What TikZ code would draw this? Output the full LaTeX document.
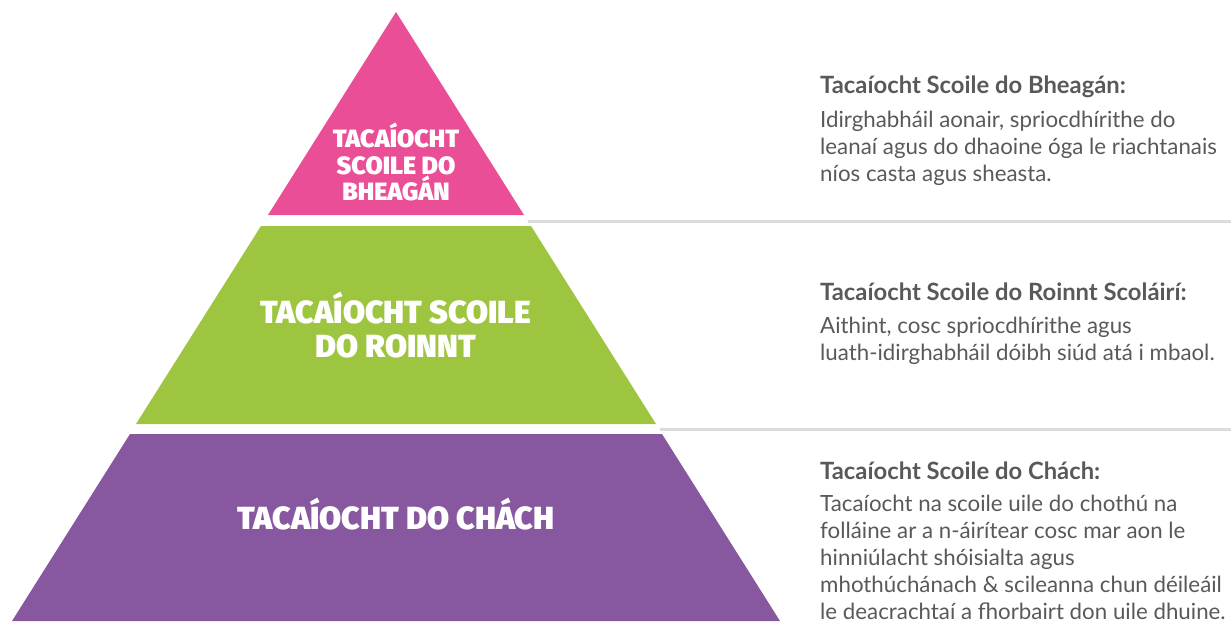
\documentclass[tikz,border=0pt]{standalone}
\usepackage{fontspec}
\setmainfont{Lato}
\IfFontExistsTF{Fira Sans Black}
  {\newfontfamily\pyr{Fira Sans Black}}
  {\newfontfamily\pyr{Fira Sans}[UprightFont=*-Bold]}
\definecolor{pk}{HTML}{E94E96}
\definecolor{gr}{HTML}{9DC540}
\definecolor{pu}{HTML}{87589F}
\definecolor{sep}{HTML}{DCDCDC}
\definecolor{tx}{HTML}{58595B}
\newcommand\toplines[1]{\begin{tabular}[t]{@{}l@{}}#1\end{tabular}}
\tikzset{
  sepline/.style={draw=sep, line width=3pt},
  pyrsmall/.style={text=white, align=center, font=\pyr\fontsize{25}{26.5}\selectfont},
  pyrbig/.style={text=white, align=center, font=\pyr\fontsize{32}{34}\selectfont},
  head/.style={anchor=base west, inner sep=0pt, text=tx, font=\bfseries\fontsize{23.8}{27}\selectfont},
  body/.style={anchor=base west, inner sep=0pt, text=tx, font=\fontsize{22.3}{27}\selectfont},
}
\begin{document}
\begin{tikzpicture}[x=1pt,y=-1pt]
\useasboundingbox (0,0) rectangle (1231,621);
\fill[pk] (396,12) -- (524,215) -- (268,215) -- cycle;
\fill[gr] (261,226) -- (531,226) -- (656,424) -- (136,424) -- cycle;
\fill[pu] (130,434) -- (662,434) -- (780,621) -- (12,621) -- cycle;
\coordinate (s1a) at (528,221); \coordinate (s1b) at (1231,221);
\coordinate (s2a) at (660,429); \coordinate (s2b) at (1231,429);
\draw[sepline] (s1a) -- (s1b);
\draw[sepline] (s2a) -- (s2b);
\node[pyrsmall] (l1) at (396,162) {TACAÍOCHT\\SCOILE DO\\BHEAGÁN};
\node[pyrbig] (l2) at (396,325) {TACAÍOCHT SCOILE\\DO ROINNT};
\node[pyrbig] (l3) at (396,514) {TACAÍOCHT DO CHÁCH};
\node[head] (h1) at (820,93) {Tacaíocht Scoile do Bheagán:};
\node[body] (b1) at (820,127) {\toplines{Idirghabháil aonair, spriocdhírithe do\\leanaí agus do dhaoine óga le riachtanais\\níos casta agus sheasta.}};
\node[head] (h2) at (820,300) {Tacaíocht Scoile do Roinnt Scoláirí:};
\node[body] (b2) at (820,333) {\toplines{Aithint, cosc spriocdhírithe agus\\luath-idirghabháil dóibh siúd atá i mbaol.}};
\node[head] (h3) at (820,479) {Tacaíocht Scoile do Chách:};
\node[body] (b3) at (820,511) {\toplines{Tacaíocht na scoile uile do chothú na\\folláine ar a n-áirítear cosc mar aon le\\hinniúlacht shóisialta agus\\mhothúchánach \& scileanna chun déileáil\\le deacrachtaí a fhorbairt don uile dhuine.}};
\end{tikzpicture}
\end{document}
